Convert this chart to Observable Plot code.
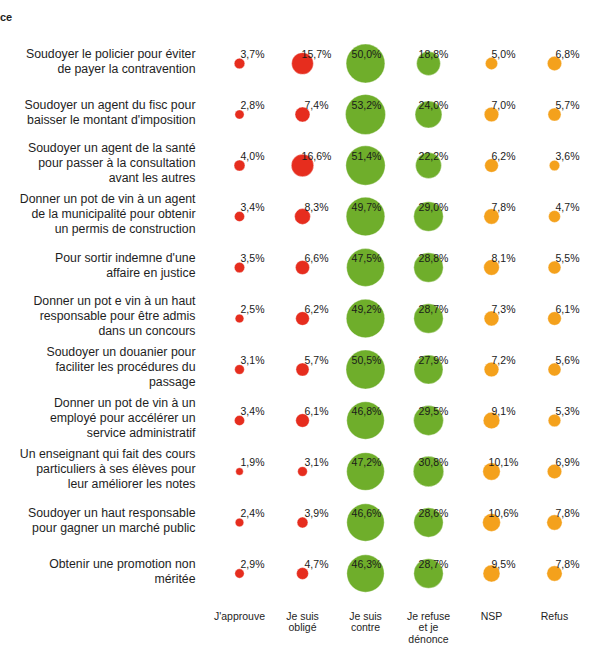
<!DOCTYPE html>
<html>
<head>
<meta charset="utf-8">
<script src="https://cdn.jsdelivr.net/npm/d3@7"></script>
<script src="https://cdn.jsdelivr.net/npm/@observablehq/plot@0.6"></script>
<style>
  body { margin: 0; background: #fff; color: #1e1e1e; font-family: "Liberation Sans", Arial, sans-serif; }
  #wrap { position: relative; width: 589px; height: 650px; }
  #title { position: absolute; left: 0px; top: 11px; font-size: 11px; font-weight: bold; }
</style>
</head>
<body>
<div id="wrap"><div id="title">ce</div></div>
<script>
const rows = [
  "Soudoyer le policier pour éviter\nde payer la contravention",
  "Soudoyer un agent du fisc pour\nbaisser le montant d'imposition",
  "Soudoyer un agent de la santé\npour passer à la consultation\navant les autres",
  "Donner un pot de vin à un agent\nde la municipalité pour obtenir\nun permis de construction",
  "Pour sortir indemne d'une\naffaire en justice",
  "Donner un pot e vin à un haut\nresponsable pour être admis\ndans un concours",
  "Soudoyer un douanier pour\nfaciliter les procédures du\npassage",
  "Donner un pot de vin à un\nemployé pour accélérer un\nservice administratif",
  "Un enseignant qui fait des cours\nparticuliers à ses élèves pour\nleur améliorer les notes",
  "Soudoyer un haut responsable\npour gagner un marché public",
  "Obtenir une promotion non\nméritée"
];
const columns = ["J'approuve", "Je suis\nobligé", "Je suis\ncontre", "Je refuse\net je\ndénonce", "NSP", "Refus"];

const japprouve = [3.7, 2.8, 4.0, 3.4, 3.5, 2.5, 3.1, 3.4, 1.9, 2.4, 2.9];
const oblige    = [15.7, 7.4, 16.6, 8.3, 6.6, 6.2, 5.7, 6.1, 3.1, 3.9, 4.7];
const contre    = [50.0, 53.2, 51.4, 49.7, 47.5, 49.2, 50.5, 46.8, 47.2, 46.6, 46.3];
const denonce   = [18.8, 24.0, 22.2, 29.0, 28.8, 28.7, 27.9, 29.5, 30.8, 28.6, 28.7];
const nsp       = [5.0, 7.0, 6.2, 7.8, 8.1, 7.3, 7.2, 9.1, 10.1, 10.6, 9.5];
const refus     = [6.8, 5.7, 3.6, 4.7, 5.5, 6.1, 5.6, 5.3, 6.9, 7.8, 7.8];

const series = [japprouve, oblige, contre, denonce, nsp, refus];
const data = [];
series.forEach((vals, ci) => vals.forEach((v, ri) => data.push({row: rows[ri], col: columns[ci], value: v})));

const fmt = v => v.toFixed(1).replace(".", ",") + "%";
const labelDx = [13, 14, 1, 5, 12, 13];

const chart = Plot.plot({
  width: 589,
  height: 650,
  marginLeft: 200,
  marginRight: 0,
  marginTop: 0,
  marginBottom: 42,
  style: {fontFamily: "'Liberation Sans', Arial, sans-serif", background: "transparent", overflow: "visible"},
  x: {type: "point", domain: columns, range: [237, 556], padding: 0},
  y: {type: "point", domain: rows, range: [58, 577], padding: 0},
  r: {domain: [0, 53.2], range: [0, 20]},
  color: {domain: columns, range: ["#e62d1e", "#e62d1e", "#6fae2b", "#6fae2b", "#f4a11c", "#f4a11c"]},
  marks: [
    Plot.axisY({tickSize: 0, tickPadding: 5, fontSize: 12.3, lineHeight: 1.22, dy: -3, label: null, textAnchor: "end"}),
    Plot.axisX({anchor: "bottom", tickSize: 0, tickPadding: 3, fontSize: 10.5, lineHeight: 1.1, label: null}),
    Plot.dot(data, {x: "col", y: "row", r: "value", fill: "col", stroke: "#ffffff", strokeOpacity: 0.35, strokeWidth: 1}),
    ...columns.map((c, i) => Plot.text(data.filter(d => d.col === c), {
      x: "col", y: "row", text: d => fmt(d.value), dx: labelDx[i], dy: -9,
      fontSize: 10.5, fill: "#1a1a1a"
    }))
  ]
});
document.getElementById("wrap").appendChild(chart);
</script>
</body>
</html>
